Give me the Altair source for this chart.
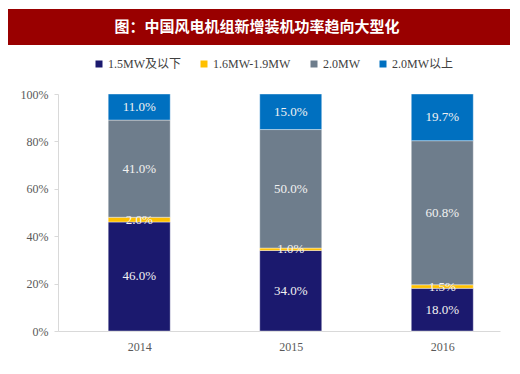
import altair as alt
import pandas as pd

years = [2014, 2015, 2016]
series = ["1.5MW及以下", "1.6MW-1.9MW", "2.0MW", "2.0MW以上"]
v_small = [46.0, 34.0, 18.0]
v_mid = [2.0, 1.0, 1.5]
v_two = [41.0, 50.0, 60.8]
v_big = [11.0, 15.0, 19.7]
colors = ["#1B196E", "#FFC000", "#6E7D8C", "#0070C0"]
title_text = "图：中国风电机组新增装机功率趋向大型化"
y_ticks = [0, 20, 40, 60, 80, 100]

SERIF = "Liberation Serif, Noto Sans CJK SC"
CJK = "Noto Sans CJK SC"

rows = []
for i, y in enumerate(years):
    cum = 0.0
    for j, (s, vals) in enumerate(zip(series, [v_small, v_mid, v_two, v_big])):
        v = vals[i]
        rows.append({"year": y, "series": s, "idx": j, "value": v,
                     "mid": cum + v / 2, "label": f"{v:.1f}%"})
        cum += v
df = pd.DataFrame(rows)

xscale = alt.Scale(domain=[2013.497, 2016.348], nice=False, zero=False)
yscale = alt.Scale(domain=[0, 100], nice=False)

bars = alt.Chart(df).mark_bar(size=62, stroke="white", strokeWidth=0.4).encode(
    x=alt.X("year:Q", scale=xscale, title=None,
            axis=alt.Axis(values=years, format="d", labelFont=SERIF, labelFontSize=12,
                          labelColor="#595959", ticks=False, domainColor="#d9d9d9",
                          labelPadding=10, grid=False)),
    y=alt.Y("value:Q", stack="zero", scale=yscale, title=None,
            axis=alt.Axis(values=y_ticks, labelExpr="datum.value + '%'", labelFont=SERIF,
                          labelFontSize=12, labelColor="#595959", tickSize=4,
                          tickColor="#d9d9d9", domainColor="#d9d9d9", grid=False,
                          labelPadding=6)),
    color=alt.Color("series:N", sort=series,
                    scale=alt.Scale(domain=series, range=colors),
                    legend=alt.Legend(orient="none", legendX=35, legendY=-36,
                                      direction="horizontal", title=None,
                                      symbolType="square", symbolSize=49,
                                      labelFont=SERIF, labelFontSize=12,
                                      labelColor="#404040", columnPadding=17,
                                      labelOffset=3, symbolStrokeWidth=0)),
    order=alt.Order("idx:Q", sort="ascending"),
)

labels = alt.Chart(df).mark_text(font=SERIF, fontSize=13, color="#F2F2F2",
                                 align="center", baseline="middle").encode(
    x=alt.X("year:Q", scale=xscale),
    y=alt.Y("mid:Q", scale=yscale),
    text="label:N",
)

banner_df = pd.DataFrame({"t": [title_text]})
banner = alt.Chart(banner_df).mark_rect(color="#990000").encode(
    x=alt.value(-50), x2=alt.value(452), y=alt.value(-85), y2=alt.value(-49))
banner_text = alt.Chart(banner_df).mark_text(
    font=CJK, fontSize=15, fontWeight="bold", color="white",
    align="center", baseline="middle").encode(
    x=alt.value(199), y=alt.value(-67), text="t:N")

chart = alt.layer(banner, banner_text, bars, labels).properties(
    width=442, height=237,
    autosize=alt.AutoSizeParams(type="none"),
    padding={"left": 50, "top": 86, "right": 10, "bottom": 24},
).configure_view(stroke=None)

chart.save("out.html", embed_options={"renderer": "svg", "actions": False})
